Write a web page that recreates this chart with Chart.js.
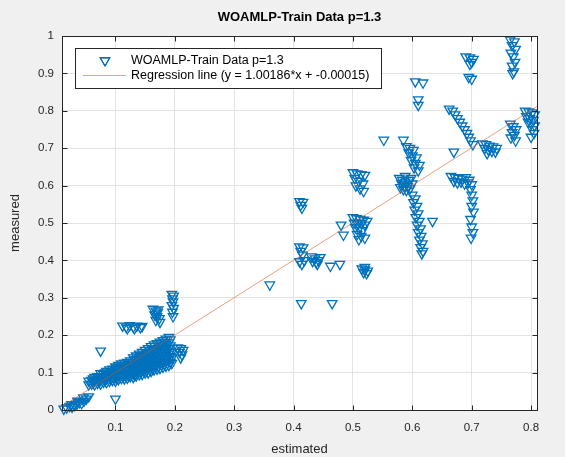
<!DOCTYPE html>
<html>
<head>
<meta charset="utf-8">
<script src="https://cdn.jsdelivr.net/npm/chart.js@4.4.0/dist/chart.umd.min.js"></script>
<style>
  html, body { margin: 0; padding: 0; background: #f0f0f0; }
  #wrap { width: 565px; height: 457px; }
</style>
</head>
<body>
<div id="wrap"><canvas id="chart" width="565" height="457"></canvas></div>
<script>
// [estimated, measured] pairs, read off the picture cluster by cluster
var nearOrigin = [[0.013,0.003],[0.018,0.006],[0.023,0.01],[0.027,0.008],[0.031,0.013],[0.035,0.016],[0.039,0.02],
    [0.043,0.018],[0.047,0.024],[0.051,0.03],[0.055,0.036],[0.026,0.015],[0.036,0.024],[0.046,0.033]];

var lowBand = [
    [0.055,0.068],[0.055,0.078],
    [0.06,0.07],[0.06,0.08],
    [0.065,0.068],[0.065,0.078],[0.065,0.088],
    [0.07,0.072],[0.07,0.082],[0.07,0.09],
    [0.075,0.07],[0.075,0.08],[0.075,0.09],[0.075,0.098],
    [0.08,0.075],[0.08,0.085],[0.08,0.095],
    [0.085,0.074],[0.085,0.084],[0.085,0.094],[0.085,0.104],
    [0.09,0.078],[0.09,0.088],[0.09,0.098],[0.09,0.108],
    [0.095,0.08],[0.095,0.09],[0.095,0.1],[0.095,0.11],
    [0.1,0.078],[0.1,0.088],[0.1,0.098],[0.1,0.108],[0.1,0.116],
    [0.105,0.082],[0.105,0.092],[0.105,0.102],[0.105,0.112],[0.105,0.12],
    [0.11,0.085],[0.11,0.095],[0.11,0.105],[0.11,0.115],[0.11,0.124],
    [0.115,0.084],[0.115,0.094],[0.115,0.104],[0.115,0.114],[0.115,0.126],
    [0.12,0.086],[0.12,0.096],[0.12,0.106],[0.12,0.116],[0.12,0.128],
    [0.125,0.09],[0.125,0.1],[0.125,0.11],[0.125,0.12],[0.125,0.132],
    [0.13,0.088],[0.13,0.098],[0.13,0.108],[0.13,0.118],[0.13,0.128],[0.13,0.14],
    [0.135,0.092],[0.135,0.102],[0.135,0.112],[0.135,0.124],[0.135,0.136],[0.135,0.145],
    [0.14,0.095],[0.14,0.105],[0.14,0.115],[0.14,0.127],[0.14,0.14],[0.14,0.15],
    [0.145,0.096],[0.145,0.108],[0.145,0.12],[0.145,0.132],[0.145,0.145],[0.145,0.155],
    [0.15,0.1],[0.15,0.11],[0.15,0.122],[0.15,0.135],[0.15,0.148],[0.15,0.16],
    [0.155,0.1],[0.155,0.112],[0.155,0.125],[0.155,0.138],[0.155,0.152],[0.155,0.165],
    [0.16,0.104],[0.16,0.116],[0.16,0.13],[0.16,0.143],[0.16,0.156],[0.16,0.17],
    [0.165,0.108],[0.165,0.12],[0.165,0.133],[0.165,0.147],[0.165,0.16],[0.165,0.175],
    [0.17,0.11],[0.17,0.122],[0.17,0.136],[0.17,0.15],[0.17,0.165],[0.17,0.178],
    [0.175,0.112],[0.175,0.125],[0.175,0.14],[0.175,0.155],[0.175,0.17],[0.175,0.182],
    [0.18,0.115],[0.18,0.128],[0.18,0.143],[0.18,0.158],[0.18,0.172],[0.18,0.186],
    [0.185,0.118],[0.185,0.132],[0.185,0.147],[0.185,0.162],[0.185,0.176],[0.185,0.19],
    [0.19,0.12],[0.19,0.135],[0.19,0.15],[0.19,0.165],[0.19,0.18],[0.19,0.195],
    [0.195,0.125],[0.195,0.14],[0.195,0.155]
];

// second, interleaved layer of the same dense band
var lowBandInner = [
    [0.0625,0.074],[0.0625,0.084],
    [0.0725,0.077],[0.0725,0.087],
    [0.0825,0.08],[0.0825,0.09],[0.0825,0.1],
    [0.0925,0.083],[0.0925,0.093],[0.0925,0.103],
    [0.1025,0.085],[0.1025,0.095],[0.1025,0.105],[0.1025,0.113],
    [0.1125,0.09],[0.1125,0.1],[0.1125,0.11],[0.1125,0.12],
    [0.1225,0.091],[0.1225,0.101],[0.1225,0.111],[0.1225,0.122],
    [0.1325,0.093],[0.1325,0.103],[0.1325,0.113],[0.1325,0.123],[0.1325,0.134],
    [0.1425,0.1],[0.1425,0.11],[0.1425,0.121],[0.1425,0.133],[0.1425,0.145],
    [0.1525,0.105],[0.1525,0.116],[0.1525,0.128],[0.1525,0.141],[0.1525,0.154],
    [0.1625,0.11],[0.1625,0.123],[0.1625,0.137],[0.1625,0.15],[0.1625,0.163],
    [0.1725,0.116],[0.1725,0.13],[0.1725,0.145],[0.1725,0.16],[0.1725,0.172],
    [0.1825,0.122],[0.1825,0.137],[0.1825,0.152],[0.1825,0.167],[0.1825,0.181],
    [0.1925,0.128],[0.1925,0.143],[0.1925,0.158],[0.1925,0.172],[0.1925,0.188]
];

var lowUpper = [
    [0.1,0.03],[0.075,0.158],
    [0.112,0.225],[0.118,0.222],[0.124,0.226],[0.13,0.222],[0.136,0.225],[0.142,0.221],[0.12,0.218],[0.132,0.218],[0.145,0.224],
    [0.163,0.27],[0.168,0.265],[0.172,0.268],[0.166,0.255],[0.17,0.25],[0.174,0.245],[0.168,0.24],[0.175,0.235],[0.171,0.26],
    [0.195,0.31],[0.198,0.305],[0.196,0.298],[0.197,0.29],[0.195,0.28],[0.198,0.272],[0.196,0.262],[0.197,0.25],
    [0.205,0.167],[0.21,0.165],[0.214,0.16],[0.208,0.155],[0.212,0.148],[0.21,0.14]
];

var midPoints = [
    [0.36,0.335],
    [0.41,0.558],[0.416,0.556],[0.412,0.548],[0.414,0.54],
    [0.41,0.437],[0.416,0.434],[0.412,0.425],[0.415,0.415],[0.41,0.397],[0.414,0.39],[0.418,0.4],
    [0.43,0.41],[0.436,0.405],[0.442,0.4],[0.438,0.395],[0.432,0.398],[0.445,0.408],[0.44,0.39],
    [0.462,0.385],[0.478,0.39],[0.48,0.495],[0.484,0.468],
    [0.413,0.285],[0.465,0.285]
];

var halfCluster = [
    [0.5,0.635],[0.507,0.632],[0.514,0.63],[0.52,0.628],[0.503,0.62],[0.51,0.612],[0.517,0.605],[0.505,0.6],[0.512,0.592],[0.518,0.585],
    [0.5,0.515],[0.506,0.512],[0.512,0.51],[0.518,0.508],[0.524,0.505],[0.502,0.5],[0.508,0.498],[0.514,0.5],[0.52,0.495],
    [0.504,0.488],[0.51,0.485],[0.516,0.48],[0.507,0.47],[0.514,0.465],[0.51,0.456],[0.52,0.46],
    [0.515,0.378],[0.52,0.375],[0.525,0.372],[0.518,0.368],[0.523,0.365],[0.52,0.382]
];

var sixCluster = [
    [0.552,0.722],[0.585,0.722],[0.634,0.505],
    [0.59,0.705],[0.596,0.7],[0.602,0.695],[0.594,0.688],[0.6,0.68],[0.607,0.675],[0.598,0.668],[0.605,0.66],[0.612,0.655],[0.603,0.648],[0.61,0.64],
    [0.578,0.62],[0.583,0.615],[0.588,0.61],[0.582,0.605],[0.587,0.6],[0.592,0.598],[0.58,0.595],[0.585,0.59],[0.59,0.588],[0.596,0.592],[0.6,0.605],[0.594,0.615],[0.588,0.625],[0.598,0.62],
    [0.6,0.575],[0.605,0.565],[0.602,0.555],[0.608,0.545],[0.604,0.535],[0.61,0.525],[0.606,0.515],[0.612,0.505],[0.608,0.495],
    [0.614,0.485],[0.61,0.475],[0.615,0.465],[0.612,0.455],[0.617,0.445],[0.614,0.435],[0.618,0.425],[0.616,0.418],
    [0.605,0.878],[0.618,0.875],[0.61,0.83],[0.61,0.815]
];

var sevenCluster = [
    [0.69,0.945],[0.697,0.942],[0.703,0.938],[0.7,0.93],[0.697,0.925],[0.695,0.89],[0.7,0.885],
    [0.662,0.805],[0.668,0.8],[0.672,0.79],[0.676,0.78],[0.68,0.77],[0.684,0.76],[0.688,0.75],[0.692,0.74],[0.695,0.73],[0.698,0.72],[0.702,0.71],[0.67,0.69],
    [0.718,0.712],[0.724,0.71],[0.73,0.706],[0.736,0.704],[0.742,0.7],[0.722,0.7],[0.728,0.696],[0.734,0.692],[0.74,0.69],[0.726,0.686],
    [0.665,0.625],[0.672,0.622],[0.678,0.62],[0.684,0.618],[0.69,0.622],[0.696,0.615],[0.67,0.612],[0.676,0.608],[0.682,0.61],[0.688,0.605],[0.694,0.608],[0.7,0.603],
    [0.698,0.59],[0.7,0.575],[0.702,0.56],[0.7,0.545],[0.703,0.53],[0.698,0.51],[0.7,0.49],[0.702,0.475],[0.699,0.46]
];

var eightCluster = [
    [0.765,0.99],[0.772,0.985],[0.768,0.975],[0.774,0.965],[0.766,0.955],[0.77,0.945],[0.773,0.93],[0.768,0.92],[0.771,0.905],[0.769,0.9],
    [0.79,0.8],[0.796,0.798],[0.802,0.795],[0.806,0.79],[0.792,0.785],[0.798,0.78],[0.804,0.775],[0.8,0.765],[0.806,0.76],[0.795,0.77],[0.802,0.75],[0.805,0.74],[0.8,0.73],
    [0.765,0.765],[0.77,0.758],[0.775,0.75],[0.768,0.742],[0.772,0.735],[0.766,0.728],[0.774,0.72]
];

// regression from the legend text
var slope = 1.00186;
var intercept = -0.00015;

var xRange = [0.01, 0.81];
var yRange = [0, 1];
var xTicks = [0.1, 0.2, 0.3, 0.4, 0.5, 0.6, 0.7, 0.8];
var yTicks = [0, 0.1, 0.2, 0.3, 0.4, 0.5, 0.6, 0.7, 0.8, 0.9, 1];

var titleText = 'WOAMLP-Train Data p=1.3';
var legendLabels = ['WOAMLP-Train Data p=1.3', 'Regression line (y = 1.00186*x + -0.00015)'];

var markerColor = '#0072BD';
var lineColor = 'rgba(217, 83, 25, 0.55)';
var axisColor = '#262626';
var fontFamily = '"Liberation Sans", Arial, Helvetica, sans-serif';

document.addEventListener('DOMContentLoaded', function() {
    var canvas = document.getElementById('chart');
    var ctx = canvas.getContext('2d');

    var allPoints = [].concat(nearOrigin, lowBand, lowBandInner, lowUpper, midPoints, halfCluster, sixCluster, sevenCluster, eightCluster);
    var scatterData = allPoints.map(function(p) { return {x: p[0], y: p[1]}; });
    var lineData = xRange.map(function(x) { return {x: x, y: slope * x + intercept}; });

    // grey figure, white axes, box with inward ticks, title and legend (MATLAB look)
    var matlabAxes = {
        id: 'matlabAxes',
        beforeDraw: function(chart) {
            var c = chart.ctx, a = chart.chartArea;
            c.save();
            c.fillStyle = '#f0f0f0';
            c.fillRect(0, 0, chart.width, chart.height);
            c.fillStyle = '#ffffff';
            c.fillRect(a.left, a.top, a.right - a.left, a.bottom - a.top);
            c.restore();
        },
        afterDatasetsDraw: function(chart) {
            var c = chart.ctx, a = chart.chartArea;
            var xs = chart.scales.x, ys = chart.scales.y;
            var L = Math.round(a.left) + 0.5, R = Math.round(a.right) + 0.5;
            var T = Math.round(a.top) + 0.5, B = Math.round(a.bottom) + 0.5;
            c.save();
            c.strokeStyle = axisColor;
            c.lineWidth = 1;
            c.strokeRect(L, T, R - L, B - T);
            c.beginPath();
            xTicks.forEach(function(v) {
                var px = Math.round(xs.getPixelForValue(v)) + 0.5;
                c.moveTo(px, B); c.lineTo(px, B - 5);
                c.moveTo(px, T); c.lineTo(px, T + 5);
            });
            yTicks.forEach(function(v) {
                var py = Math.round(ys.getPixelForValue(v)) + 0.5;
                c.moveTo(L, py); c.lineTo(L + 5, py);
                c.moveTo(R, py); c.lineTo(R - 5, py);
            });
            c.stroke();
            c.restore();
        },
        afterDraw: function(chart) {
            var c = chart.ctx, a = chart.chartArea;
            c.save();
            // title
            c.fillStyle = '#000';
            c.font = 'bold 13px ' + fontFamily;
            c.textAlign = 'center';
            c.textBaseline = 'middle';
            c.fillText(titleText, (a.left + a.right) / 2, 17);

            // legend box
            var bx = 75.5, by = 48.5, bw = 306, bh = 40;
            c.fillStyle = '#ffffff';
            c.fillRect(bx, by, bw, bh);
            c.strokeStyle = axisColor;
            c.lineWidth = 1;
            c.strokeRect(bx, by, bw, bh);

            var row1 = by + 12, row2 = by + 27;
            Chart.helpers.drawPoint(c, {
                pointStyle: 'triangle', rotation: 180, radius: 5.5, borderWidth: 1.3
            }, 105, row1);
            c.strokeStyle = markerColor;
            c.lineWidth = 1.3;
            c.stroke();

            c.beginPath();
            c.lineWidth = 1;
            c.strokeStyle = lineColor;
            c.moveTo(83, row2);
            c.lineTo(126, row2);
            c.stroke();

            c.fillStyle = '#000';
            c.font = '12.5px ' + fontFamily;
            c.textAlign = 'left';
            c.fillText(legendLabels[0], 131, row1);
            c.fillText(legendLabels[1], 131, row2);
            c.restore();
        }
    };

    new Chart(ctx, {
        type: 'scatter',
        data: {
            datasets: [
                {
                    label: legendLabels[0],
                    data: scatterData,
                    pointStyle: 'triangle',
                    rotation: 180,
                    radius: 5.5,
                    hoverRadius: 5.5,
                    borderWidth: 1.3,
                    borderColor: markerColor,
                    backgroundColor: 'rgba(0,0,0,0)',
                    clip: false,
                    order: 2
                },
                {
                    label: legendLabels[1],
                    data: lineData,
                    showLine: true,
                    borderColor: lineColor,
                    borderWidth: 1,
                    pointRadius: 0,
                    order: 1
                }
            ]
        },
        options: {
            responsive: false,
            animation: false,
            events: [],
            layout: { padding: { left: 0, right: 28, top: 36, bottom: 0 } },
            plugins: {
                legend: { display: false },
                tooltip: { enabled: false }
            },
            scales: {
                x: {
                    type: 'linear',
                    min: xRange[0],
                    max: xRange[1],
                    afterBuildTicks: function(scale) {
                        scale.ticks = xTicks.map(function(v) { return {value: v}; });
                    },
                    afterFit: function(scale) { scale.height = 47; },
                    grid: { color: '#e3e3e3', drawTicks: false },
                    border: { display: false },
                    ticks: {
                        padding: 11,
                        color: axisColor,
                        font: { family: fontFamily, size: 11.5 },
                        callback: function(v) { return String(Math.round(v * 10) / 10); }
                    },
                    title: {
                        display: true,
                        text: 'estimated',
                        color: axisColor,
                        font: { family: fontFamily, size: 13 },
                        padding: { top: 0, bottom: 0 }
                    }
                },
                y: {
                    type: 'linear',
                    min: yRange[0],
                    max: yRange[1],
                    afterBuildTicks: function(scale) {
                        scale.ticks = yTicks.map(function(v) { return {value: v}; });
                    },
                    afterFit: function(scale) { scale.width = 62; },
                    grid: { color: '#e3e3e3', drawTicks: false },
                    border: { display: false },
                    ticks: {
                        padding: 8,
                        color: axisColor,
                        font: { family: fontFamily, size: 11.5 },
                        callback: function(v) { return String(Math.round(v * 10) / 10); }
                    },
                    title: {
                        display: true,
                        text: 'measured',
                        color: axisColor,
                        font: { family: fontFamily, size: 13 },
                        padding: { top: 8, bottom: 0 }
                    }
                }
            }
        },
        plugins: [matlabAxes]
    });
});
</script>
</body>
</html>
